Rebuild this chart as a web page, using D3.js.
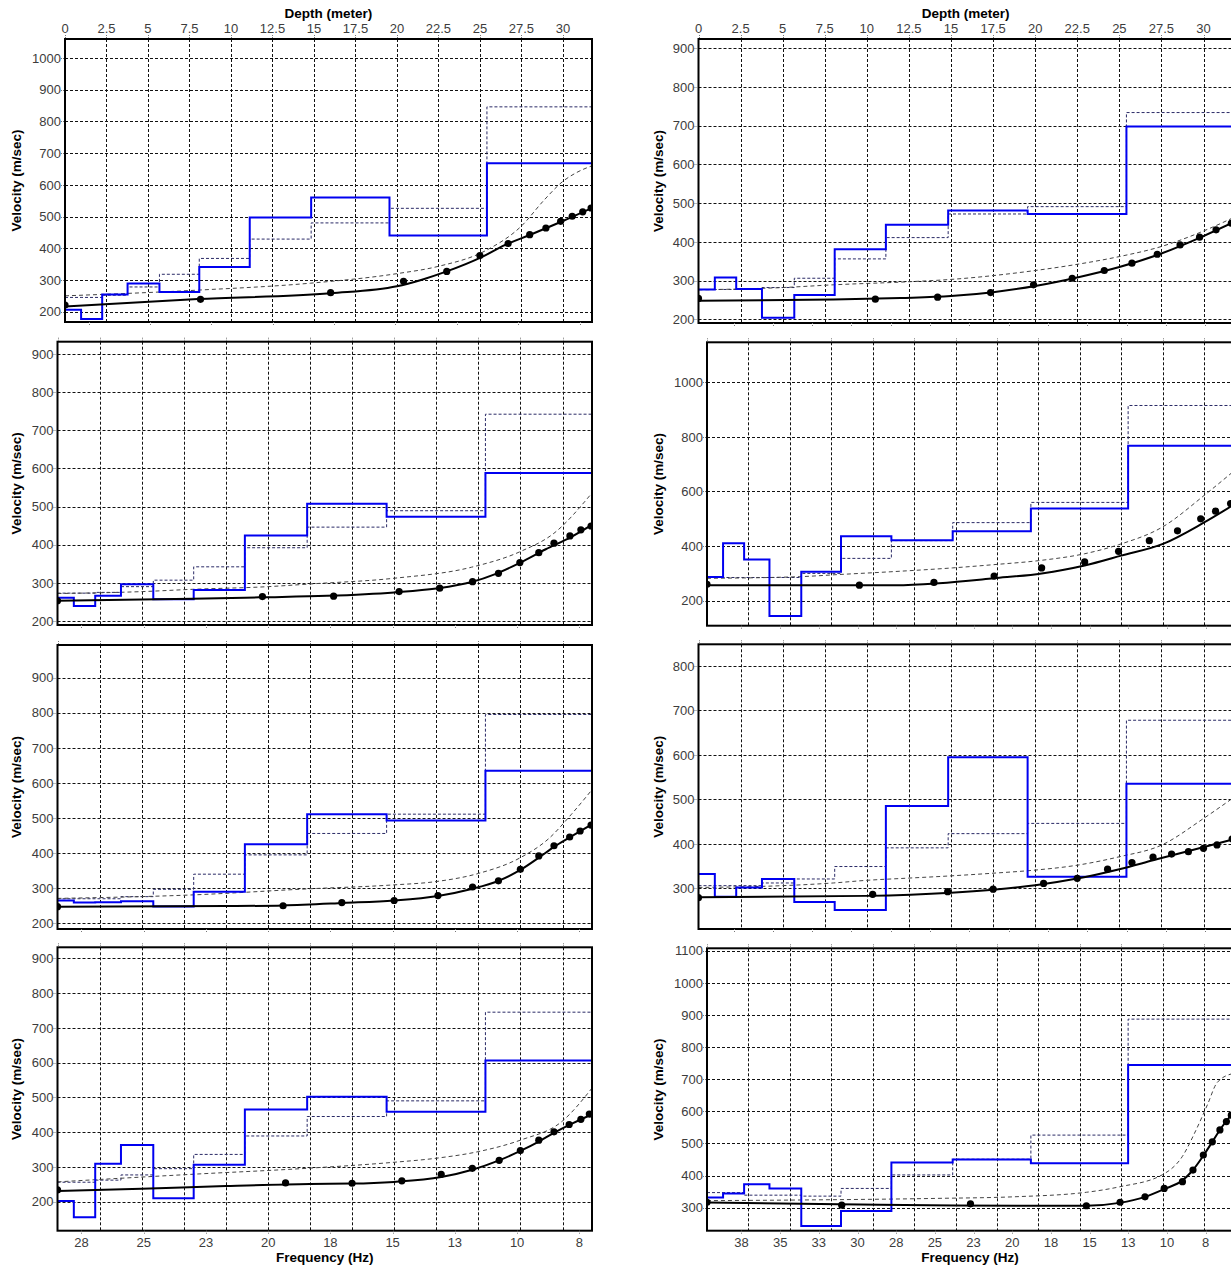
<!DOCTYPE html>
<html>
<head>
<meta charset="utf-8">
<script src="https://cdn.jsdelivr.net/npm/d3@7"></script>
<style>
  body { margin: 0; background: #fff; }
  svg { display: block; font-family: Arial, "Liberation Sans", sans-serif; }
</style>
</head>
<body>
<svg id="chart" width="1231" height="1265"></svg>
<script>
// ---- Layered model: top depth of each layer (m); the last layer is the half-space
const layerTops = [0, 0.97, 2.24, 3.77, 5.69, 8.09, 11.13, 14.83, 19.55, 25.42];

// ---- Depth axis ticks (m)
const depthTicks = [0, 2.5, 5, 7.5, 10, 12.5, 15, 17.5, 20, 22.5, 25, 27.5, 30];
const depthTickLabels = ["0", "2.5", "5", "7.5", "10", "12.5", "15", "17.5", "20", "22.5", "25", "27.5", "30"];

// ---- Frequency axis ticks (Hz)
const freqTicksLeft = [28, 25.5, 23, 20.5, 18, 15.5, 13, 10.5, 8];
const freqTickLabelsLeft = ["28", "25", "23", "20", "18", "15", "13", "10", "8"];
const freqTicksRight = [38, 35.5, 33, 30.5, 28, 25.5, 23, 20.5, 18, 15.5, 13, 10.5, 8];
const freqTickLabelsRight = ["38", "35", "33", "30", "28", "25", "23", "20", "18", "15", "13", "10", "8"];

// ---- Section 1
const vsFinal1   = [206, 177, 254, 289, 262, 341, 497, 560, 440, 668];
const vsInitial1 = [245, 245, 252, 278, 318, 368, 429, 480, 526, 846];
const measured1  = [[28.96,221],[23.44,239],[18.14,260],[15.17,296],[13.41,327],[12.06,377],[10.91,415],[10.03,443],[9.37,464],[8.77,485],[8.30,501],[7.87,515],[7.53,527]];
const fitCurve1  = [[28.96,216],[23.55,240],[18.14,258],[15.44,280],[14.42,301],[13.41,327],[11.99,372],[11.05,410],[10.03,442],[8.68,486],[7.50,527]];
const initCurve1 = [[28.96,250],[23.55,268],[18.95,290],[15.44,320],[13.75,343],[11.79,394],[10.37,470],[9.42,554],[8.68,611],[8.14,638],[7.50,660]];

// ---- Section 2
const vsFinal2   = [277, 308, 278, 204, 263, 381, 444, 481, 472, 698];
const vsInitial2 = [277, 277, 277, 282, 306, 356, 411, 472, 491, 734];
const measured2  = [[40.23,254],[28.98,252],[25.02,257],[21.65,269],[18.92,289],[16.46,306],[14.42,326],[12.66,345],[11.05,368],[9.60,392],[8.36,412],[7.31,431],[6.34,448]];
const fitCurve2  = [[40.23,248],[31.66,251],[27.38,255],[24.17,260],[21.49,270],[18.81,286],[16.14,308],[13.46,335],[10.79,370],[8.11,415],[6.24,450]];
const initCurve2 = [[40.23,276],[34.87,282],[31.66,289],[26.84,297],[24.17,303],[18.81,326],[16.14,342],[13.46,362],[10.79,388],[8.11,428],[6.24,462]];

// ---- Section 3
const vsFinal3   = [261, 239, 266, 296, 257, 281, 424, 507, 473, 588];
const vsInitial3 = [273, 273, 275, 290, 307, 342, 392, 446, 489, 742];
const measured3  = [[28.96,253],[20.73,264],[17.87,265],[15.24,277],[13.61,286],[12.29,303],[11.25,325],[10.39,353],[9.63,379],[9.02,404],[8.38,423],[7.94,439],[7.53,449]];
const fitCurve3  = [[28.96,253],[23.55,258],[20.85,262],[18.14,266],[15.44,275],[13.75,285],[12.33,302],[11.38,323],[10.37,353],[9.35,388],[8.34,420],[7.50,452]];
const initCurve3 = [[28.96,272],[25.58,277],[23.55,283],[20.51,290],[18.82,297],[15.44,312],[12.33,341],[10.37,382],[9.02,430],[7.50,535]];

// ---- Section 4
const vsFinal4   = [287, 410, 351, 144, 306, 436, 421, 454, 538, 768];
const vsInitial4 = [287, 285, 285, 285, 300, 355, 420, 486, 560, 915];
const measured4  = [[40.23,260],[30.38,257],[25.56,267],[21.67,290],[18.60,320],[15.82,342],[13.63,381],[11.64,420],[9.82,456],[8.32,500],[7.36,528],[6.39,556]];
const fitCurve4  = [[40.23,257],[28.02,257],[25.24,264],[21.70,282],[18.60,300],[15.82,329],[13.46,365],[10.68,410],[8.21,483],[6.23,550]];
const initCurve4 = [[40.23,282],[34.23,288],[31.66,296],[28.34,306],[24.38,320],[21.70,332],[18.60,348],[15.82,372],[13.63,405],[10.79,470],[8.11,585],[6.24,672]];

// ---- Section 5
const vsFinal5   = [265, 259, 260, 263, 248, 290, 425, 511, 493, 635];
const vsInitial5 = [270, 270, 270, 276, 297, 340, 395, 456, 511, 795];
const measured5  = [[28.96,247.5],[19.90,250],[17.54,259],[15.44,265],[13.68,279],[12.29,303.5],[11.25,321],[10.37,354],[9.63,392],[9.02,421],[8.39,446],[7.97,463],[7.53,480]];
const fitCurve5  = [[28.96,247],[22.20,249],[19.90,251],[17.47,258],[15.44,265],[13.68,278],[12.33,298],[11.25,321],[10.37,352],[9.63,387],[9.02,418],[8.34,447],[7.50,482]];
const initCurve5 = [[28.96,271],[23.51,281],[18.95,298],[15.57,309],[13.75,319],[12.06,342],[10.37,387],[9.22,442],[8.34,509],[7.50,580]];

// ---- Section 6
const vsFinal6   = [332, 281, 302, 321, 269, 251, 485, 595, 326, 535];
const vsInitial6 = [306, 306, 306, 312, 321, 349, 391, 423, 446, 678];
const measured6  = [[40.23,279],[29.15,286.5],[24.38,292.5],[21.49,298],[18.28,311],[16.14,322.5],[14.21,343],[12.66,358],[11.32,370],[10.14,377],[9.07,382.5],[8.11,390],[7.25,397.5],[6.29,411]];
const fitCurve6  = [[40.23,280],[29.52,283],[24.17,290],[21.49,297],[18.81,307],[16.14,322],[13.46,343],[11.32,363],[9.17,383],[6.23,410]];
const initCurve6 = [[40.23,302],[34.87,306],[31.66,312],[29.52,318],[26.84,323],[24.17,328],[21.49,334],[18.81,341],[16.14,352],[13.46,371],[10.79,397],[8.11,457],[6.24,503]];

// ---- Section 7
const vsFinal7   = [202, 155, 309, 363, 210, 306, 465, 502, 459, 606];
const vsInitial7 = [256, 256, 262, 277, 295, 336, 389, 445, 490, 745];
const measured7  = [[28.96,234],[19.80,254],[17.13,253],[15.13,260],[13.55,279],[12.30,296],[11.22,319],[10.37,347],[9.63,377],[9.02,401],[8.41,422],[7.94,437],[7.60,452]];
const fitCurve7  = [[28.96,231],[25.58,237],[22.20,245],[18.82,251],[17.13,252],[15.44,257],[13.55,271],[12.30,292],[11.25,318],[10.37,346],[9.63,373],[9.02,398],[8.34,423],[7.50,451]];
const initCurve7 = [[28.96,257],[23.51,279],[18.95,296],[15.51,313],[13.75,325],[12.06,344],[10.37,377],[8.68,432],[7.50,526]];

// ---- Section 8
const vsFinal8   = [332, 344, 373, 360, 243, 290, 441, 450, 438, 744];
const vsInitial8 = [347, 347, 339, 339, 336, 360, 402, 451, 526, 887];
const measured8  = [[40.23,317],[31.52,308],[23.20,312],[15.71,306],[13.53,317],[11.92,334],[10.68,360],[9.50,381],[8.82,417],[8.15,464],[7.57,505],[7.08,542],[6.66,568],[6.34,588]];
const fitCurve8  = [[40.23,316],[31.66,311],[24.17,307],[18.81,306],[15.71,306],[13.57,315],[11.96,333],[10.68,358],[9.50,385],[8.86,415],[8.15,462],[7.57,505],[7.04,545],[6.24,595]];
const initCurve8 = [[40.23,322],[34.18,324],[25.34,329],[20.36,334],[15.71,348],[13.57,365],[10.78,403],[9.50,460],[8.64,540],[7.89,620],[7.25,690],[6.23,718]];

// ---- Layout of the eight panels (pixel frame + velocity range)
const DEPTH_MAX = 31.75;
const columns = [
  { freqDomain: [28, 8], depthAnchor: [1.42, 31.0], ticks: freqTicksLeft, labels: freqTickLabelsLeft, titleX: 16 },
  { freqDomain: [38, 8], depthAnchor: [2.08, 30.1], ticks: freqTicksRight, labels: freqTickLabelsRight, titleX: 658 }
];
const panels = [
  { col: 0, left: 65,    right: 592,  top: 39,    bottom: 322,    vRange: [167.5, 1060], vTicks: d3.range(200, 1001, 100), data: [vsFinal1, vsInitial1, measured1, fitCurve1, initCurve1] },
  { col: 1, left: 698.5, right: 1233, top: 39,    bottom: 323,    vRange: [190.4, 924],  vTicks: d3.range(200, 901, 100),  data: [vsFinal2, vsInitial2, measured2, fitCurve2, initCurve2] },
  { col: 0, left: 57.5,  right: 592,  top: 341.7, bottom: 625,    vRange: [189.5, 932],  vTicks: d3.range(200, 901, 100),  data: [vsFinal3, vsInitial3, measured3, fitCurve3, initCurve3] },
  { col: 1, left: 707,   right: 1233, top: 342.3, bottom: 625.7,  vRange: [108.4, 1146.5], vTicks: d3.range(200, 1001, 200), data: [vsFinal4, vsInitial4, measured4, fitCurve4, initCurve4] },
  { col: 0, left: 57.5,  right: 592,  top: 645,   bottom: 929,    vRange: [183.8, 993],  vTicks: d3.range(200, 901, 100),  data: [vsFinal5, vsInitial5, measured5, fitCurve5, initCurve5] },
  { col: 1, left: 698.5, right: 1233, top: 644.3, bottom: 929,    vRange: [208.5, 848.8], vTicks: d3.range(300, 801, 100), data: [vsFinal6, vsInitial6, measured6, fitCurve6, initCurve6] },
  { col: 0, left: 57.5,  right: 592,  top: 947.3, bottom: 1230.7, vRange: [116.6, 931.6], vTicks: d3.range(200, 901, 100), data: [vsFinal7, vsInitial7, measured7, fitCurve7, initCurve7] },
  { col: 1, left: 707,   right: 1233, top: 948.3, bottom: 1230.7, vRange: [228.4, 1107.5], vTicks: d3.range(300, 1101, 100), data: [vsFinal8, vsInitial8, measured8, fitCurve8, initCurve8] }
];

const svg = d3.select("#chart");
const defs = svg.append("defs");
const TICK_FONT = 13;
const TITLE_FONT = 13.5;
const LABEL_COLOR = "#3c3c3c";

panels.forEach((p, i) => {
  const col = columns[p.col];
  const [vsFinal, vsInitial, measured, fitCurve, initCurve] = p.data;

  const x = d3.scaleLinear().domain([0, DEPTH_MAX]).range([p.left, p.right]);
  const y = d3.scaleLinear().domain(p.vRange).range([p.bottom, p.top]);
  const xf = d3.scaleLinear().domain(col.freqDomain).range(col.depthAnchor.map(x));

  const clipId = "plot-clip-" + i;
  defs.append("clipPath").attr("id", clipId)
    .append("rect")
    .attr("x", p.left).attr("y", p.top)
    .attr("width", p.right - p.left).attr("height", p.bottom - p.top);

  const g = svg.append("g");
  const plot = g.append("g").attr("clip-path", `url(#${clipId})`);

  // grid
  plot.append("g").selectAll("line.vgrid")
    .data(depthTicks.filter(d => d > 0))
    .join("line")
    .attr("x1", d => Math.round(x(d)) + 0.5).attr("x2", d => Math.round(x(d)) + 0.5)
    .attr("y1", p.top).attr("y2", p.bottom)
    .attr("stroke", "#111").attr("stroke-width", 1).attr("stroke-dasharray", "3,2");
  plot.append("g").selectAll("line.hgrid")
    .data(p.vTicks)
    .join("line")
    .attr("x1", p.left).attr("x2", p.right)
    .attr("y1", d => Math.round(y(d)) + 0.5).attr("y2", d => Math.round(y(d)) + 0.5)
    .attr("stroke", "#111").attr("stroke-width", 1).attr("stroke-dasharray", "3,2");

  // step profiles: initial model (dashed) and inverted model (blue)
  const stepLine = d3.line().x(d => x(d[0])).y(d => y(d[1])).curve(d3.curveStepAfter);
  const stepPoints = vals => vals.map((v, k) => [layerTops[k], v]).concat([[DEPTH_MAX, vals[vals.length - 1]]]);

  plot.append("path").datum(stepPoints(vsInitial))
    .attr("d", stepLine).attr("fill", "none")
    .attr("stroke", "#2a2a66").attr("stroke-width", 1).attr("stroke-dasharray", "3,2");

  // dispersion curve of the initial model
  const freqLine = d3.line().x(d => xf(d[0])).y(d => y(d[1])).curve(d3.curveMonotoneX);
  plot.append("path").datum(initCurve)
    .attr("d", freqLine).attr("fill", "none")
    .attr("stroke", "#444").attr("stroke-width", 1).attr("stroke-dasharray", "4,3");

  plot.append("path").datum(stepPoints(vsFinal))
    .attr("d", stepLine).attr("fill", "none")
    .attr("stroke", "#0000f0").attr("stroke-width", 2);

  // dispersion curve of the inverted model and measured points
  plot.append("path").datum(fitCurve)
    .attr("d", freqLine).attr("fill", "none")
    .attr("stroke", "#000").attr("stroke-width", 2);

  plot.append("g").selectAll("circle")
    .data(measured)
    .join("circle")
    .attr("cx", d => xf(d[0])).attr("cy", d => y(d[1])).attr("r", 3.6)
    .attr("fill", "#000");

  // frame
  g.append("rect")
    .attr("x", p.left).attr("y", p.top)
    .attr("width", p.right - p.left).attr("height", p.bottom - p.top)
    .attr("fill", "none").attr("stroke", "#000").attr("stroke-width", 2);

  // velocity ticks and labels
  const vt = g.append("g");
  vt.selectAll("line").data(p.vTicks).join("line")
    .attr("x1", p.left - 4).attr("x2", p.left)
    .attr("y1", d => Math.round(y(d)) + 0.5).attr("y2", d => Math.round(y(d)) + 0.5)
    .attr("stroke", "#777").attr("stroke-width", 1).attr("stroke-dasharray", "1,1");
  vt.selectAll("text").data(p.vTicks).join("text")
    .attr("x", p.left - 4).attr("y", d => y(d)).attr("dy", "0.36em")
    .attr("text-anchor", "end").attr("font-size", TICK_FONT).attr("fill", LABEL_COLOR)
    .text(d => d);

  g.append("text")
    .attr("transform", `translate(${col.titleX},${(p.top + p.bottom) / 2}) rotate(-90)`)
    .attr("text-anchor", "middle").attr("dy", "0.36em")
    .attr("font-size", TITLE_FONT).attr("font-weight", "bold").attr("fill", "#000")
    .text("Velocity (m/sec)");

  // small ticks on the top edge (depth) and bottom edge (frequency)
  g.append("g").selectAll("line").data(depthTicks).join("line")
    .attr("x1", d => Math.round(x(d)) + 0.5).attr("x2", d => Math.round(x(d)) + 0.5)
    .attr("y1", p.top - 4).attr("y2", p.top)
    .attr("stroke", "#777").attr("stroke-width", 1).attr("stroke-dasharray", "1,1");
  g.append("g").selectAll("line").data(col.ticks).join("line")
    .attr("x1", d => Math.round(xf(d)) + 0.5).attr("x2", d => Math.round(xf(d)) + 0.5)
    .attr("y1", p.bottom).attr("y2", p.bottom + 4)
    .attr("stroke", "#777").attr("stroke-width", 1).attr("stroke-dasharray", "1,1");

  // depth axis on the first row
  if (i < 2) {
    g.append("g").selectAll("text").data(depthTicks).join("text")
      .attr("x", d => x(d)).attr("y", p.top - 11).attr("dy", "0.36em")
      .attr("text-anchor", "middle").attr("font-size", TICK_FONT).attr("fill", LABEL_COLOR)
      .text((d, k) => depthTickLabels[k]);
    g.append("text")
      .attr("x", (p.left + p.right) / 2).attr("y", 13).attr("dy", "0.36em")
      .attr("text-anchor", "middle").attr("font-size", TITLE_FONT).attr("font-weight", "bold")
      .text("Depth (meter)");
  }

  // frequency axis on the last row
  if (i >= 6) {
    g.append("g").selectAll("text").data(col.ticks).join("text")
      .attr("x", d => xf(d)).attr("y", 1242).attr("dy", "0.36em")
      .attr("text-anchor", "middle").attr("font-size", TICK_FONT).attr("fill", LABEL_COLOR)
      .text((d, k) => col.labels[k]);
    g.append("text")
      .attr("x", (p.left + p.right) / 2).attr("y", 1257).attr("dy", "0.36em")
      .attr("text-anchor", "middle").attr("font-size", TITLE_FONT).attr("font-weight", "bold")
      .text("Frequency (Hz)");
  }
});
</script>
</body>
</html>
